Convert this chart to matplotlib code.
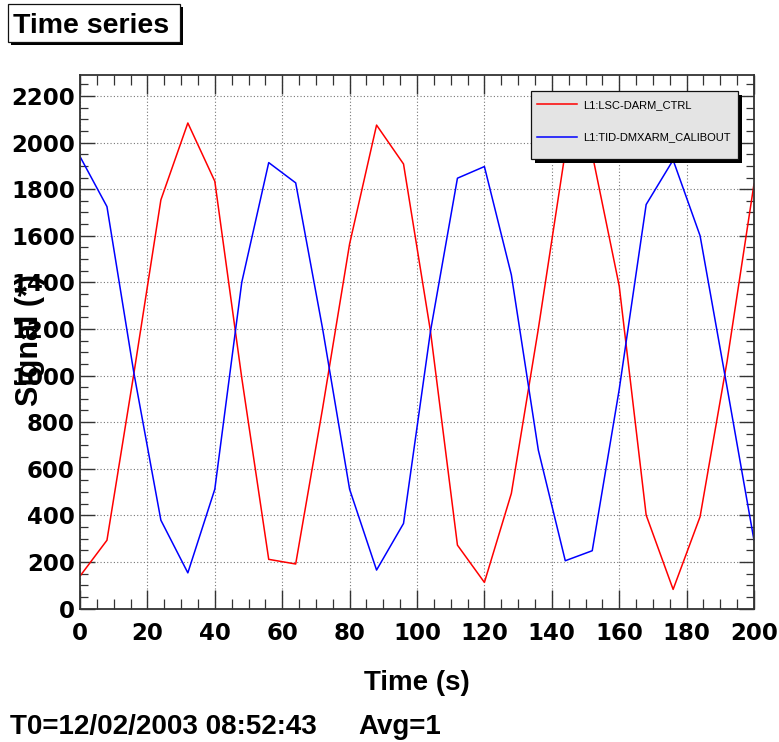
import matplotlib
matplotlib.use("Agg")
import matplotlib.pyplot as plt
import numpy as np
from matplotlib.patches import Rectangle
from matplotlib.ticker import MultipleLocator

W, H = 779, 742

# samples every 8 s
time_s = np.arange(0, 201, 8)
darm_ctrl = [139, 293, 1010, 1754, 2084, 1834, 990, 211, 191, 860, 1565, 2075, 1908,
             1190, 272, 112, 494, 1200, 1960, 1950, 1385, 401, 82, 394, 1060, 1822]
dmxarm_calibout = [1940, 1725, 1010, 379, 153, 512, 1400, 1914, 1827, 1200, 512, 165, 365,
                   1190, 1847, 1897, 1432, 680, 205, 248, 940, 1734, 1925, 1600, 950, 293]
series_names = ["L1:LSC-DARM_CTRL", "L1:TID-DMXARM_CALIBOUT"]
series_colors = ["#ff0000", "#0000ff"]

BOLD = {"family": "Liberation Sans", "weight": "bold"}
TICKFONT = {"family": "DejaVu Sans", "weight": "bold", "size": 16.5}


def fx(x):
    return x / W


def fy(y):
    return 1 - y / H


def shadow_box(fig, x0, y0, x1, y1, face, off=3.5, z=3):
    # box in canvas pixels with a solid black drop shadow
    fig.add_artist(Rectangle((fx(x0 + off), fy(y1 + off)), (x1 - x0) / W, (y1 - y0) / H,
                             transform=fig.transFigure, facecolor="black",
                             edgecolor="none", zorder=z))
    fig.add_artist(Rectangle((fx(x0), fy(y1)), (x1 - x0) / W, (y1 - y0) / H,
                             transform=fig.transFigure, facecolor=face,
                             edgecolor="#111111", lw=0.9, zorder=z + 0.1))


fig = plt.figure(figsize=(W / 100, H / 100), dpi=100)
ax = fig.add_axes([fx(80), fy(608.5), 674 / W, 533.5 / H])

lines = []
for vals, name, col in zip([darm_ctrl, dmxarm_calibout], series_names, series_colors):
    ln, = ax.plot(time_s, vals, color=col, lw=1.1, label=name)
    lines.append(ln)

ax.set_xlim(0, 200)
ax.set_ylim(0, 2290)
ax.xaxis.set_major_locator(MultipleLocator(20))
ax.xaxis.set_minor_locator(MultipleLocator(5))
ax.yaxis.set_major_locator(MultipleLocator(200))
ax.yaxis.set_minor_locator(MultipleLocator(50))

ax.set_axisbelow(True)
ax.grid(True, which="major", color="#777777", linestyle=(0, (1, 2)), lw=0.8)

ax.tick_params(which="both", direction="in", top=True, right=True,
               color="#333333", labelcolor="black")
ax.tick_params(axis="x", which="major", length=14, width=1.0, pad=9.5)
ax.tick_params(axis="x", which="minor", length=7, width=0.9)
ax.tick_params(axis="y", which="major", length=11, width=1.0, pad=3.6)
ax.tick_params(axis="y", which="minor", length=5.5, width=0.9)
for lab in ax.get_xticklabels() + ax.get_yticklabels():
    lab.set_fontfamily(TICKFONT["family"])
    lab.set_fontweight(TICKFONT["weight"])
    lab.set_fontsize(TICKFONT["size"])
for sp in ax.spines.values():
    sp.set_color("#333333")
    sp.set_linewidth(1.3)

# axis titles and run info
fig.text(fx(417), fy(690), "Time (s)", ha="center", va="baseline", fontsize=20, **BOLD)
fig.text(fx(30), fy(340), "Signal (*)", rotation=90, ha="center", va="center",
         fontsize=22, **BOLD)
fig.text(fx(10), fy(734), "T0=12/02/2003 08:52:43", ha="left", va="baseline",
         fontsize=20, **BOLD)
fig.text(fx(358), fy(734), "Avg=1", ha="left", va="baseline", fontsize=20, **BOLD)

# title box
shadow_box(fig, 8, 4, 180, 42, "white", off=3)
fig.text(fx(13), fy(33), "Time series", ha="left", va="baseline", fontsize=20.5,
         zorder=4, **BOLD)

# legend box
shadow_box(fig, 531, 90.7, 738.3, 159.3, "#e4e4e4", off=4, z=4)
fig.legend(handles=lines, loc="upper left", bbox_to_anchor=(fx(537), fy(100.3)),
           frameon=False, borderpad=0, borderaxespad=0, handlelength=3.6,
           handletextpad=0.54, labelspacing=2.0,
           prop={"family": "Liberation Sans", "size": 8})

fig.savefig("out.png", dpi=100)
